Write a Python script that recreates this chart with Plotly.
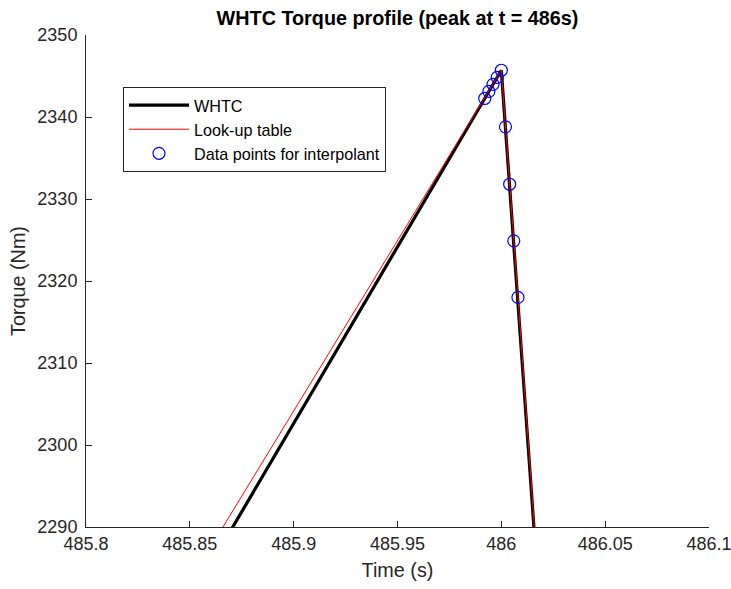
import plotly.graph_objects as go

# WHTC reference torque, 1 Hz samples around the peak
whtc_time = [485.0, 486.0, 487.0]
whtc_torque = [1915.0, 2345.7, -1204.0]

# Data points used to build the interpolant
interp_time = [485.992, 485.994, 485.996, 485.998, 486.0, 486.002, 486.004, 486.006, 486.008]
interp_torque = [2342.26, 2343.12, 2343.98, 2344.84, 2345.7, 2338.8, 2331.8, 2324.9, 2318.0]

# Look-up table: interpolant points plus its neighbouring breakpoints
lut_time = [485.8] + interp_time + [486.1]
lut_torque = [2262.6] + interp_torque + [1991.4]

x_ticks = [485.8, 485.85, 485.9, 485.95, 486.0, 486.05, 486.1]
x_tick_text = ["485.8", "485.85", "485.9", "485.95", "486", "486.05", "486.1"]
y_ticks = [2290, 2300, 2310, 2320, 2330, 2340, 2350]

FONT = "Liberation Sans, Arial, Helvetica, sans-serif"
AX = "#262626"

fig = go.Figure()
fig.add_trace(go.Scatter(x=whtc_time, y=whtc_torque, mode="lines", name="WHTC",
                         line=dict(color="black", width=3.2), legendgroup="a"))
fig.add_trace(go.Scatter(x=lut_time, y=lut_torque, mode="lines", name="Look-up table",
                         line=dict(color="#ff0000", width=1), legendgroup="b"))
fig.add_trace(go.Scatter(x=interp_time, y=interp_torque, mode="markers",
                         name="Data points for interpolant", legendgroup="c",
                         marker=dict(symbol="circle-open", size=12, color="#0000ff",
                                     line=dict(width=1.2, color="#0000ff"))))

fig.update_layout(
    width=731, height=589,
    margin=dict(l=86, r=22, t=35, b=62, autoexpand=False),
    paper_bgcolor="white", plot_bgcolor="white",
    font=dict(family=FONT, color=AX, size=18),
    title=dict(text="<b>WHTC Torque profile (peak at t = 486s)</b>",
               x=0.5, xref="paper", xanchor="center",
               y=1 - 18 / 589, yref="container", yanchor="middle",
               font=dict(size=19.8, color="black", family=FONT)),
    showlegend=True,
    legend=dict(x=0.0594, y=0.894, xanchor="left", yanchor="top",
                bgcolor="white", bordercolor=AX, borderwidth=1,
                font=dict(size=16.2, color="black", family=FONT),
                tracegroupgap=0, itemwidth=60),
)

fig.update_xaxes(range=[485.8, 486.1], tickvals=x_ticks, ticktext=x_tick_text,
                 automargin=False,
                 showline=True, linecolor=AX, linewidth=1, mirror=False,
                 ticks="inside", ticklen=6, tickcolor=AX, showgrid=False, zeroline=False,
                 tickfont=dict(size=18, color=AX), ticklabeloverflow="allow",
                 title=dict(text="Time (s)", font=dict(size=19.8, color=AX), standoff=10))
fig.update_yaxes(range=[2290, 2350], tickvals=y_ticks,
                 automargin=False,
                 showline=True, linecolor=AX, linewidth=1, mirror=False,
                 ticks="inside", ticklen=6, tickcolor=AX, showgrid=False, zeroline=False,
                 tickfont=dict(size=18, color=AX), ticklabelstandoff=4,
                 title=dict(text="Torque (Nm)", font=dict(size=19.8, color=AX), standoff=6))

fig.write_html("out.html")
